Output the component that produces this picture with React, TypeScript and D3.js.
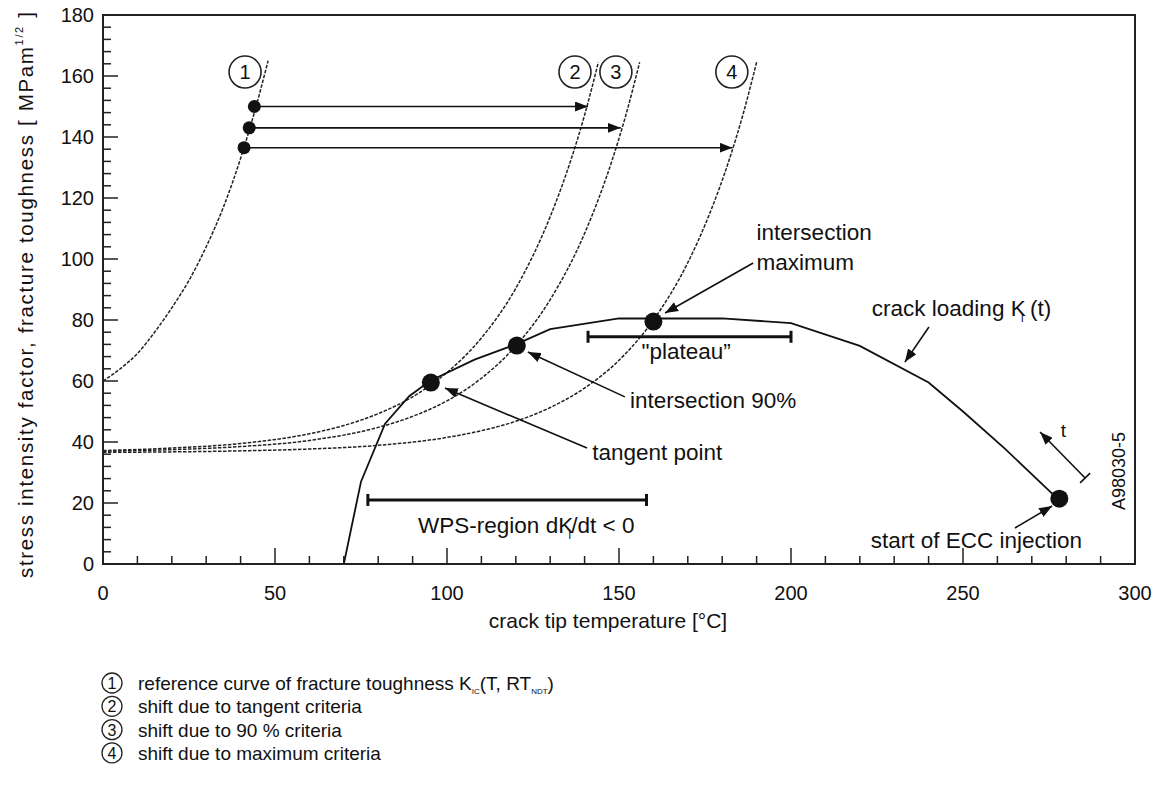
import React from 'react';
import * as d3 from 'd3';

// [temperature °C, K MPa·m^1/2]
const curveRef: [number, number][] = [[0, 60], [5, 64], [10, 69], [15, 76], [20, 84], [25, 93], [30, 104], [35, 117], [40, 133], [44, 148], [48, 165]];
const curveTangent: [number, number][] = [[0, 37.2], [20, 38], [40, 39.5], [60, 42.7], [70, 45.4], [80, 49.3], [90, 54.8], [100, 62.8], [110, 74.1], [120, 90.4], [130, 113.9], [136, 132.4], [140, 147.2], [144, 164.5]];
const curve90: [number, number][] = [[0, 37], [20, 37.5], [40, 38.5], [60, 40.5], [80, 44.8], [90, 48.4], [100, 53.5], [110, 60.9], [120, 71.5], [130, 86.7], [140, 108.4], [148, 132.4], [152, 147.2], [156, 164.5]];
const curveMax: [number, number][] = [[0, 36.6], [40, 37.1], [60, 37.7], [80, 38.9], [100, 41.5], [110, 43.7], [120, 46.8], [130, 51.3], [140, 57.7], [150, 66.8], [160, 80], [170, 98.8], [176, 113.9], [182, 132.4], [186, 147.2], [190, 164.5]];
const crackLoading: [number, number][] = [[70, 0], [75, 27], [82, 46], [89, 55], [95, 60], [108, 67], [120, 72], [130, 77], [150, 80.5], [180, 80.5], [200, 79], [220, 71.5], [240, 59.5], [250, 50], [262, 38], [276, 23], [278, 21]];

// shift arrows: start on curve 1, end on curves 2/3/4
const shiftStarts: [number, number][] = [[44, 150], [42.5, 143], [41, 136.5]];
const shiftEnds: [number, number][] = [[141, 150], [150.5, 143], [183, 136.5]];
// tangent, 90 %, maximum, ECC start
const keyPoints: [number, number][] = [[95.3, 59.5], [120.3, 71.6], [160, 79.5], [278, 21.4]];

const curveLabels = ['1', '2', '3', '4'];
const curveLabelAt: [number, number][] = [[41.3, 161.3], [137.2, 161.3], [149.1, 161.3], [182.8, 161.3]];

const xTicks = [0, 50, 100, 150, 200, 250, 300];
const yTicks = [0, 20, 40, 60, 80, 100, 120, 140, 160, 180];
const xMinor = d3.range(0, 301, 10);
const yMinor = d3.range(0, 181, 4);

const legendItems = ['reference curve of fracture toughness', 'shift due to tangent criteria', 'shift due to 90 % criteria', 'shift due to maximum criteria'];

const FONT = '"Liberation Sans", Arial, Helvetica, sans-serif';
const ANN = 22.5;

export default function App() {
  const x = d3.scaleLinear().domain([0, 300]).range([103, 1135]);
  const y = d3.scaleLinear().domain([0, 180]).range([564, 15]);
  const smooth = d3.line<[number, number]>().x(d => x(d[0])).y(d => y(d[1])).curve(d3.curveMonotoneX);
  const straight = d3.line<[number, number]>().x(d => x(d[0])).y(d => y(d[1]));

  const arrow = (a: [number, number], b: [number, number], key: string) => (
    <line key={key} x1={x(a[0])} y1={y(a[1])} x2={x(b[0])} y2={y(b[1])} stroke="#111" strokeWidth={1.6} markerEnd="url(#ah)" />
  );

  // little bar at the tail of the "t" arrow
  const tA: [number, number] = [285.5, 28.2];
  const tB: [number, number] = [272.4, 43.3];
  const dx = x(tB[0]) - x(tA[0]), dy = y(tB[1]) - y(tA[1]);
  const len = Math.hypot(dx, dy);
  const px = -dy / len * 7, py = dx / len * 7;

  const dashed = { fill: 'none', stroke: '#222', strokeWidth: 1.5, strokeDasharray: '3.5,1.5' };

  return (
    <div style={{ position: 'absolute', left: 0, top: 0 }}>
      <svg width={1167} height={805} style={{ display: 'block', background: '#fff' }} fontFamily={FONT}>
        <defs>
          <marker id="ah" viewBox="0 0 10 10" refX="10" refY="5" markerWidth="13" markerHeight="10" markerUnits="userSpaceOnUse" orient="auto" preserveAspectRatio="none">
            <path d="M0,0L10,5L0,10z" fill="#111" />
          </marker>
        </defs>

        {/* frame */}
        <rect x={x(0)} y={y(180)} width={x(300) - x(0)} height={y(0) - y(180)} fill="none" stroke="#222" strokeWidth={2} />

        {/* ticks */}
        {xMinor.map(t => (
          <line key={'xm' + t} x1={x(t)} x2={x(t)} y1={y(0)} y2={y(0) - (t % 50 === 0 ? 16 : 8)} stroke="#222" strokeWidth={1.5} />
        ))}
        {yMinor.map(t => (
          <line key={'ym' + t} x1={x(0)} x2={x(0) + (t % 20 === 0 ? 15 : 8)} y1={y(t)} y2={y(t)} stroke="#222" strokeWidth={1.5} />
        ))}
        {xTicks.map(t => (
          <text key={'xt' + t} x={x(t)} y={y(0) + 36} textAnchor="middle" fontSize={20} fill="#111">{t}</text>
        ))}
        {yTicks.map(t => (
          <text key={'yt' + t} x={x(0) - 9} y={y(t) + 7} textAnchor="end" fontSize={20} fill="#111">{t}</text>
        ))}

        {/* axis titles */}
        <text x={608} y={628} textAnchor="middle" fontSize={21} fill="#111">crack tip temperature [°C]</text>
        <text transform="translate(33,295) rotate(-90)" textAnchor="middle" fontSize={20.5} fill="#111" textLength={566} lengthAdjust="spacing">
          stress intensity factor, fracture toughness [ MPam<tspan fontSize={11} dy={-10}>1/2</tspan><tspan dy={10}>{'  ]'}</tspan>
        </text>

        {/* fracture toughness curves */}
        {[curveRef, curveTangent, curve90, curveMax].map((c, i) => (
          <path key={'c' + i} d={smooth(c) || ''} {...dashed} />
        ))}

        {/* crack loading */}
        <path d={straight(crackLoading) || ''} fill="none" stroke="#111" strokeWidth={1.8} />

        {/* shift arrows */}
        {shiftStarts.map((s, i) => arrow([s[0] + 1.5, s[1]], shiftEnds[i], 'sa' + i))}
        {shiftStarts.map((s, i) => (
          <circle key={'sd' + i} cx={x(s[0])} cy={y(s[1])} r={6.5} fill="#111" />
        ))}
        {keyPoints.map((p, i) => (
          <circle key={'kp' + i} cx={x(p[0])} cy={y(p[1])} r={9} fill="#111" />
        ))}

        {/* circled curve numbers */}
        {curveLabels.map((l, i) => (
          <g key={'cl' + i}>
            <circle cx={x(curveLabelAt[i][0])} cy={y(curveLabelAt[i][1])} r={16} fill="#fff" stroke="#222" strokeWidth={1.6} />
            <text x={x(curveLabelAt[i][0])} y={y(curveLabelAt[i][1]) + 7} textAnchor="middle" fontSize={20} fill="#111">{l}</text>
          </g>
        ))}

        {/* plateau and WPS bars */}
        <g stroke="#111" strokeWidth={3}>
          <line x1={x(141)} x2={x(200)} y1={y(74.5)} y2={y(74.5)} />
          <line x1={x(141)} x2={x(141)} y1={y(74.5) - 6} y2={y(74.5) + 6} />
          <line x1={x(200)} x2={x(200)} y1={y(74.5) - 6} y2={y(74.5) + 6} />
          <line x1={x(77)} x2={x(158)} y1={y(21)} y2={y(21)} />
          <line x1={x(77)} x2={x(77)} y1={y(21) - 6} y2={y(21) + 6} />
          <line x1={x(158)} x2={x(158)} y1={y(21) - 6} y2={y(21) + 6} />
        </g>
        <text x={x(169.5)} y={y(67.3)} textAnchor="middle" fontSize={ANN} fill="#111">"plateau”</text>
        <text x={x(91.6)} y={y(10.2)} fontSize={ANN} fill="#111">
          WPS-region dK<tspan fontSize={11} dx={-5} dy={6}>I</tspan><tspan dy={-6}>/dt &lt; 0</tspan>
        </text>

        {/* annotations */}
        <text x={x(190)} y={y(106.2)} fontSize={ANN} fill="#111">intersection</text>
        <text x={x(190)} y={y(96.4)} fontSize={ANN} fill="#111">maximum</text>
        {arrow([189, 98.7], [163.4, 82.3], 'a1')}

        <text x={x(223.5)} y={y(81.3)} fontSize={ANN} fill="#111">
          crack loading K<tspan fontSize={11} dx={-5} dy={6}>I</tspan><tspan dy={-6}> (t)</tspan>
        </text>
        {arrow([240.1, 77.7], [233.1, 66.2], 'a2')}

        <text x={x(153.2)} y={y(51.1)} fontSize={ANN} fill="#111">intersection 90%</text>
        {arrow([151.7, 54.8], [123.5, 69.5], 'a3')}

        <text x={x(142.2)} y={y(34.1)} fontSize={ANN} fill="#111">tangent point</text>
        {arrow([140.7, 38], [99.4, 57.7], 'a4')}

        <text x={x(284.6)} y={y(5.2)} textAnchor="end" fontSize={ANN} fill="#111">start of ECC injection</text>
        {arrow([265.1, 11.8], [275.9, 19], 'a5')}

        {arrow(tA, tB, 'a6')}
        <line x1={x(tA[0]) - px} y1={y(tA[1]) - py} x2={x(tA[0]) + px} y2={y(tA[1]) + py} stroke="#111" strokeWidth={1.6} />
        <text x={x(278.4)} y={y(41.6)} fontSize={19} fill="#111">t</text>

        <text transform={`translate(${x(297)},${y(30.5)}) rotate(-90)`} textAnchor="middle" fontSize={18} fill="#111">A98030-5</text>

        {/* legend */}
        {legendItems.map((t, i) => (
          <g key={'lg' + i}>
            <circle cx={112} cy={683 + i * 23.3} r={10} fill="#fff" stroke="#222" strokeWidth={1.3} />
            <text x={112} y={683 + i * 23.3 + 6} textAnchor="middle" fontSize={16} fill="#111">{i + 1}</text>
            <text x={138} y={683 + i * 23.3 + 7} fontSize={19} fill="#111">
              {t}
              {i === 0 && (
                <>
                  {' K'}<tspan fontSize={8} dy={4}>IC</tspan><tspan dy={-4}>(T, RT</tspan><tspan fontSize={8} dy={4}>NDT</tspan><tspan dy={-4}>)</tspan>
                </>
              )}
            </text>
          </g>
        ))}
      </svg>
    </div>
  );
}
